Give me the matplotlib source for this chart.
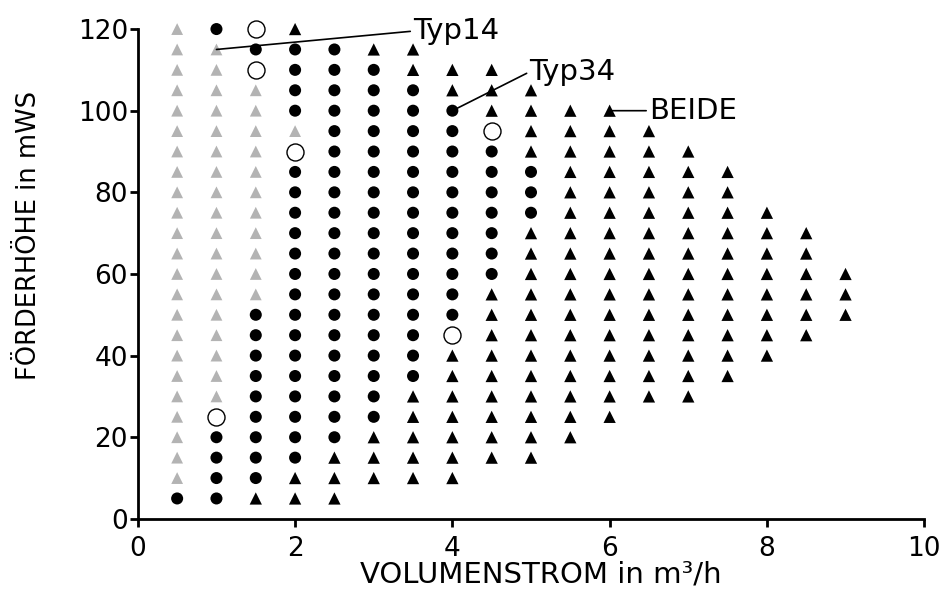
import matplotlib
matplotlib.use('Agg')
import matplotlib.pyplot as plt

# grid of operating points
x_vals = [0.5, 1.0, 1.5, 2.0, 2.5, 3.0, 3.5, 4.0, 4.5, 5.0, 5.5, 6.0, 6.5, 7.0, 7.5, 8.0, 8.5, 9.0]
y_vals = [120, 115, 110, 105, 100, 95, 90, 85, 80, 75, 70, 65, 60, 55, 50, 45, 40, 35, 30, 25, 20, 15, 10, 5]

# one string per row, one char per x column (from x=0.5)
# g = grey triangle, c = black circle, t = black triangle, o = open circle
grid = [
    "g" "c" "o" "t",                          # 120
    "gg" "ccc" "tt",                          # 115
    "ggo" "ccc" "ttt",                        # 110
    "ggg" "cccc" "ttt",                       # 105
    "ggg" "ccccc" "tttt",                     # 100
    "gggg" "cccc" "o" "tttt",                 # 95
    "gggo" "ccccc" "ttttt",                   # 90
    "ggg" "ccccccc" "ttttt",                  # 85
    "ggg" "ccccccc" "ttttt",                  # 80
    "ggg" "ccccccc" "tttttt",                 # 75
    "ggg" "cccccc" "tttttttt",                # 70
    "ggg" "cccccc" "tttttttt",                # 65
    "ggg" "cccccc" "ttttttttt",               # 60
    "ggg" "ccccc" "tttttttttt",               # 55
    "gg" "cccccc" "tttttttttt",               # 50
    "gg" "ccccc" "o" "ttttttttt",             # 45
    "gg" "ccccc" "ttttttttt",                 # 40
    "gg" "ccccc" "tttttttt",                  # 35
    "gg" "cccc" "tttttttt",                   # 30
    "go" "cccc" "tttttt",                     # 25
    "g" "cccc" "tttttt",                      # 20
    "g" "ccc" "tttttt",                       # 15
    "g" "cc" "ttttt",                         # 10
    "cc" "ttt",                               # 5
]

tick_x = [0, 2, 4, 6, 8, 10]
tick_y = [0, 20, 40, 60, 80, 100, 120]

# labels and the point each leader line goes to
notes = ["Typ14", "Typ34", "BEIDE"]
note_points = [(1.0, 115), (4.0, 100), (6.0, 100)]

styles = {
    'g': dict(marker='^', color='#b3b3b3', s=72, edgecolors='none'),
    'c': dict(marker='o', color='black', s=75, edgecolors='none'),
    't': dict(marker='^', color='black', s=78, edgecolors='none'),
    'o': dict(marker='o', facecolors='white', edgecolors='black', s=150, linewidths=1.0),
}

plt.rcParams['font.family'] = 'DejaVu Sans'

fig = plt.figure(figsize=(9.44, 5.93), dpi=100)
ax = fig.add_axes([0.146, 0.125, 0.833, 0.826])

for code, st in styles.items():
    xs, ys = [], []
    for yi, row in zip(y_vals, grid):
        for xi, ch in zip(x_vals, row):
            if ch == code:
                xs.append(xi)
                ys.append(yi)
    ax.scatter(xs, ys, clip_on=False, zorder=3, **st)

# text positions for the labels
note_text_pos = [(3.5, 119.5), (4.98, 109.5), (6.5, 100)]
for txt, xy, xyt in zip(notes, note_points, note_text_pos):
    ax.annotate(txt, xy=xy, xytext=xyt, fontsize=21, ha='left', va='center',
                arrowprops=dict(arrowstyle='-', lw=1.2, color='black',
                                shrinkA=0, shrinkB=0, relpos=(0, 0.5)),
                zorder=4)

ax.set_xlim(0, 10)
ax.set_ylim(0, 120)
ax.set_xticks(tick_x)
ax.set_yticks(tick_y)
ax.tick_params(labelsize=19, width=2, length=6, direction='out')
ax.tick_params(axis='x', pad=6)
ax.tick_params(axis='y', pad=1)
for side in ['top', 'right']:
    ax.spines[side].set_visible(False)
for side in ['left', 'bottom']:
    ax.spines[side].set_linewidth(2)

ax.set_xlabel('VOLUMENSTROM in m³/h', fontsize=21)
ax.set_ylabel('FÖRDERHÖHE in mWS', fontsize=18.5)
ax.xaxis.set_label_coords(0.513, -0.085)
ax.yaxis.set_label_coords(-0.122, 0.578)

fig.savefig('out.png', dpi=100)
